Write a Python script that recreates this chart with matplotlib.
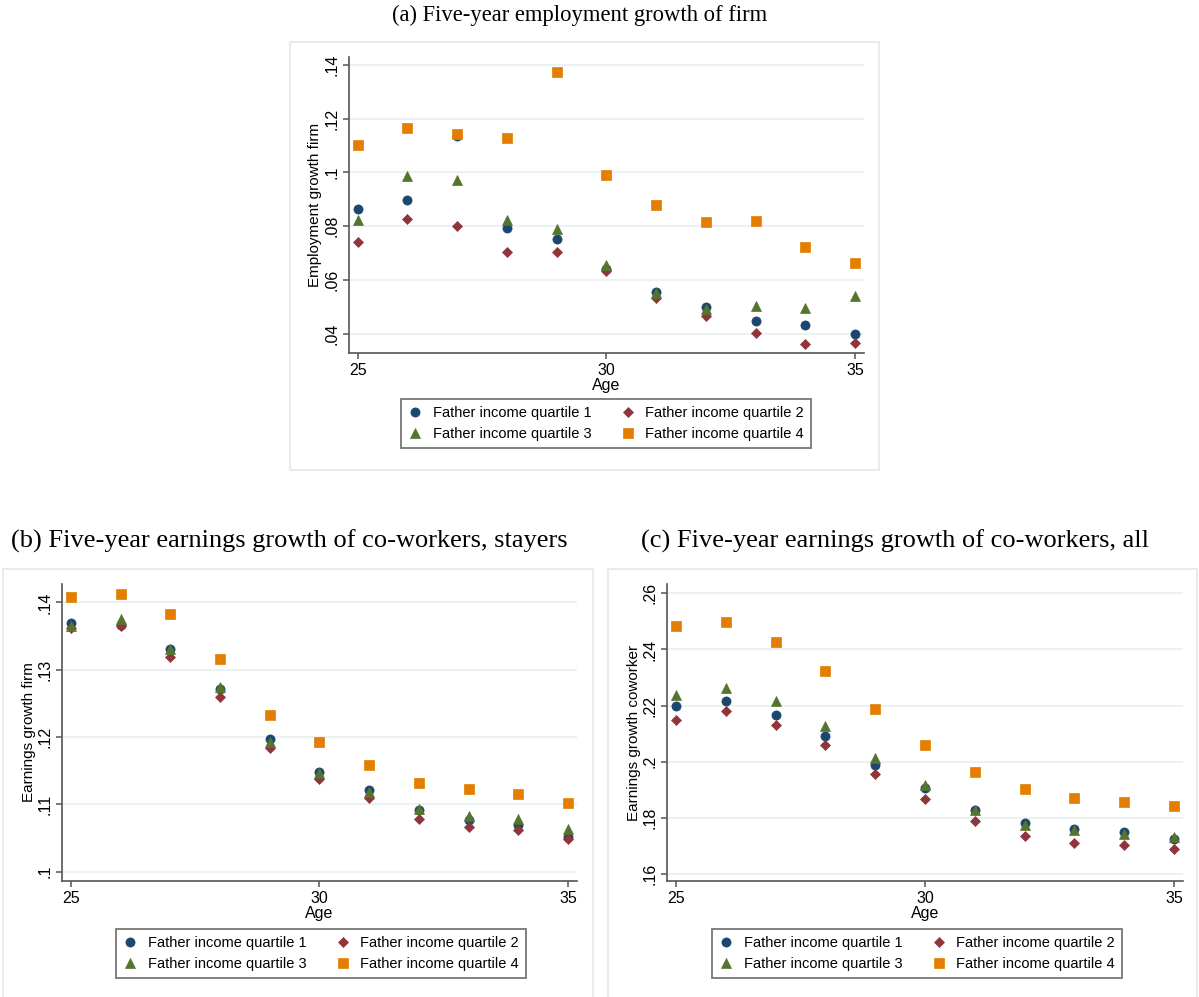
import matplotlib
matplotlib.use("Agg")
import matplotlib.pyplot as plt
from matplotlib.patches import Rectangle
from matplotlib.ticker import FuncFormatter, FixedLocator

# ---------------- data ----------------
ages = [25, 26, 27, 28, 29, 30, 31, 32, 33, 34, 35]
series_labels = ["Father income quartile 1", "Father income quartile 2",
                 "Father income quartile 3", "Father income quartile 4"]

# (a) Employment growth firm
emp_q1 = [0.0864, 0.0899, 0.1134, 0.0792, 0.0752, 0.0640, 0.0555, 0.0497, 0.0447, 0.0431, 0.0400]
emp_q2 = [0.0742, 0.0828, 0.0799, 0.0705, 0.0702, 0.0634, 0.0531, 0.0467, 0.0402, 0.0361, 0.0365]
emp_q3 = [0.0824, 0.0986, 0.0972, 0.0821, 0.0790, 0.0656, 0.0552, 0.0493, 0.0502, 0.0496, 0.0541]
emp_q4 = [0.1102, 0.1164, 0.1142, 0.1129, 0.1374, 0.0989, 0.0880, 0.0814, 0.0818, 0.0724, 0.0664]

# (b) Earnings growth firm (stayers)
stay_q1 = [0.1369, 0.1366, 0.1330, 0.1271, 0.1197, 0.1148, 0.1122, 0.1092, 0.1077, 0.1069, 0.1052]
stay_q2 = [0.1362, 0.1365, 0.1319, 0.1259, 0.1183, 0.1137, 0.1109, 0.1078, 0.1067, 0.1062, 0.1048]
stay_q3 = [0.1365, 0.1375, 0.1331, 0.1275, 0.1193, 0.1146, 0.1119, 0.1093, 0.1083, 0.1078, 0.1064]
stay_q4 = [0.1408, 0.1413, 0.1383, 0.1316, 0.1233, 0.1193, 0.1159, 0.1131, 0.1123, 0.1116, 0.1102]

# (c) Earnings growth coworker (all)
all_q1 = [0.2198, 0.2217, 0.2167, 0.2091, 0.1990, 0.1908, 0.1828, 0.1780, 0.1760, 0.1748, 0.1724]
all_q2 = [0.2149, 0.2182, 0.2131, 0.2060, 0.1957, 0.1867, 0.1788, 0.1736, 0.1712, 0.1702, 0.1688]
all_q3 = [0.2239, 0.2263, 0.2215, 0.2128, 0.2012, 0.1916, 0.1828, 0.1776, 0.1755, 0.1744, 0.1730]
all_q4 = [0.2482, 0.2497, 0.2428, 0.2324, 0.2188, 0.2060, 0.1964, 0.1901, 0.1869, 0.1858, 0.1841]

x_ticks = [25, 30, 35]
emp_yticks = [0.04, 0.06, 0.08, 0.10, 0.12, 0.14]
stay_yticks = [0.10, 0.11, 0.12, 0.13, 0.14]
all_yticks = [0.16, 0.18, 0.20, 0.22, 0.24, 0.26]

titles = ["(a) Five-year employment growth of firm",
          "(b) Five-year earnings growth of co-workers, stayers",
          "(c) Five-year earnings growth of co-workers, all"]
ylabels = ["Employment growth firm", "Earnings growth firm", "Earnings growth coworker"]
xlabel = "Age"

# ---------------- style ----------------
W, H = 1199, 997
colors = ["#1a476f", "#90353b", "#55752f", "#e37e00"]
markers = ["o", "D", "^", "s"]
msizes = [6.6, 5.5, 7.2, 7.0]
grid_c = "#eaf2f3"
frame_c = "#e4ecee"
spine_c = "#555555"

plt.rcParams["font.family"] = ["Liberation Sans", "DejaVu Sans"]
fig = plt.figure(figsize=(W / 100, H / 100), dpi=100)
fig.patch.set_facecolor("white")


def fx(px):
    return px / W


def fy(py):
    return 1 - py / H


def fmt(v, pos):
    s = f"{v:.2f}".rstrip("0").rstrip(".")
    if s.startswith("0"):
        s = s[1:]
    return s


def panel(rect_px, frame_px, ylim, yticks, data, title, title_xy, title_size, ylabel, leg_center):
    # frame
    x0, y0, x1, y1 = frame_px
    fig.patches.append(Rectangle((fx(x0), fy(y1)), fx(x1) - fx(x0), fy(y0) - fy(y1),
                                 transform=fig.transFigure, fill=False,
                                 edgecolor=frame_c, linewidth=1.5, zorder=0))
    l, r, t, b = rect_px
    ax = fig.add_axes([fx(l), fy(b), fx(r) - fx(l), fy(t) - fy(b)])
    ax.set_xlim(24.815, 35.18)
    ax.set_ylim(*ylim)
    for sp in ["top", "right"]:
        ax.spines[sp].set_visible(False)
    for sp in ["left", "bottom"]:
        ax.spines[sp].set_color(spine_c)
        ax.spines[sp].set_linewidth(1.2)
    ax.yaxis.set_major_locator(FixedLocator(yticks))
    ax.yaxis.set_major_formatter(FuncFormatter(fmt))
    ax.xaxis.set_major_locator(FixedLocator(x_ticks))
    ax.tick_params(axis="both", colors=spine_c, labelcolor="black", labelsize=11.5,
                   length=4.5, width=1.1)
    ax.tick_params(axis="y", pad=2)
    ax.tick_params(axis="x", pad=3)
    for lab in ax.get_yticklabels():
        lab.set_rotation(90)
        lab.set_va("center")
    ax.grid(axis="y", color=grid_c, linewidth=1.5)
    ax.set_axisbelow(True)
    handles = []
    for i, ys in enumerate(data):
        h, = ax.plot(ages, ys, linestyle="none", marker=markers[i], ms=msizes[i],
                     color=colors[i], markeredgecolor=colors[i], markeredgewidth=0.5,
                     label=series_labels[i], clip_on=False, zorder=3)
        handles.append(h)
    ax.set_xlabel(xlabel, fontsize=11.5, labelpad=0)
    ax.set_ylabel(ylabel, fontsize=11, labelpad=1.5)
    order = [0, 2, 1, 3]
    leg = ax.legend([handles[i] for i in order], [series_labels[i] for i in order],
                    ncol=2, loc="center", bbox_to_anchor=(fx(leg_center[0]), fy(leg_center[1])),
                    bbox_transform=fig.transFigure, frameon=True, fancybox=False,
                    fontsize=10.5, handlelength=1.0, handletextpad=0.7, columnspacing=2.0,
                    borderpad=0.5, labelspacing=0.45, markerscale=1.0)
    leg.get_frame().set_edgecolor("#555555")
    leg.get_frame().set_linewidth(1.3)
    fig.text(fx(title_xy[0]), fy(title_xy[1]), title, ha="center", va="center",
             fontsize=title_size, family=["Liberation Serif", "DejaVu Serif"])
    return ax


panel((348.5, 864, 56.7, 352.7), (290, 42, 879, 470), (0.03285, 0.14309), emp_yticks,
      [emp_q1, emp_q2, emp_q3, emp_q4], titles[0], (580, 15), 16.3, ylabels[0], (606, 423.5))

panel((61.7, 577, 584, 881), (3, 569, 593, 999), (0.09862, 0.14272), stay_yticks,
      [stay_q1, stay_q2, stay_q3, stay_q4], titles[1], (289, 541), 19, ylabels[1], (321, 953.5))

panel((666.7, 1183, 584, 881), (608, 569, 1197, 999), (0.1575, 0.2633), all_yticks,
      [all_q1, all_q2, all_q3, all_q4], titles[2], (895, 541), 19, ylabels[2], (917, 953.5))

fig.savefig("out.png", dpi=100, facecolor="white")
